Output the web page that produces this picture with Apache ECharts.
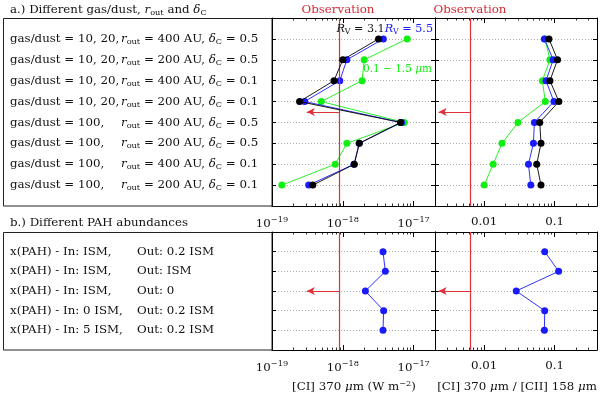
<!DOCTYPE html>
<html>
<head>
<meta charset="utf-8">
<script src="https://cdn.jsdelivr.net/npm/echarts@6/dist/echarts.min.js"></script>
<style>
html, body { margin: 0; padding: 0; background: #fff; }
#chart { width: 600px; height: 397px; }
</style>
</head>
<body>
<div id="chart"></div>
<script>
// panel a rows, top to bottom
var gasDust = ['10, 20', '10, 20', '10, 20', '10, 20', '100', '100', '100', '100'];
var rOut = [400, 200, 400, 200, 400, 200, 400, 200];
var deltaC = ['0.5', '0.5', '0.1', '0.1', '0.5', '0.5', '0.1', '0.1'];

// [CI] 370 um flux (W m^-2)
var ciRv31 = [3.19e-18, 1.0e-18, 7.5e-19, 2.45e-19, 6.5e-18, 1.71e-18, 1.45e-18, 3.77e-19];
var ciRv55 = [3.73e-18, 1.14e-18, 9.06e-19, 2.89e-19, 6.74e-18, 1.70e-18, 1.44e-18, 3.3e-19];
var ciSmall = [8.1e-18, 2.0e-18, 1.87e-18, 4.96e-19, 7.36e-18, 1.14e-18, 7.8e-19, 1.38e-19];
// [CI] 370 / [CII] 158
var ratioRv31 = [0.0832, 0.110, 0.0859, 0.115, 0.0615, 0.0641, 0.0557, 0.0641];
var ratioRv55 = [0.0715, 0.0955, 0.0754, 0.0977, 0.0516, 0.050, 0.0425, 0.0459];
var ratioSmall = [0.073, 0.0859, 0.0669, 0.0738, 0.0301, 0.0179, 0.0134, 0.0100];

// panel b rows
var pahIn = ['ISM', 'ISM', 'ISM', '0 ISM', '5 ISM'];
var pahOut = ['0.2 ISM', 'ISM', '0', '0.2 ISM', '0.2 ISM'];
var pahCI = [3.69e-18, 3.98e-18, 2.08e-18, 3.77e-18, 3.69e-18];
var pahRatio = [0.0723, 0.114, 0.0285, 0.0723, 0.0716];

// observation (upper limits)
var obsCI = 8.8e-19, obsCIArrow = 3.1e-19;
var obsRatio = 0.0063, obsRatioArrow = 0.00225;

var ciTicks = [1e-19, 1e-18, 1e-17];
var ratioTicks = [0.01, 0.1];

var FONT = 'DejaVu Serif';
var FS = 11.8, FSS = 8.2;
var RED = '#e0303a';
var BLUE = '#1a1aff', GREEN = '#11ee11';

var richTxt = {
  a: { fontFamily: FONT, fontSize: FS, color: '#111', width: 111 },
  b: { fontFamily: FONT, fontSize: FS, color: '#111', width: 127 },
  n: { fontFamily: FONT, fontSize: FS, color: '#111' },
  i: { fontFamily: FONT, fontSize: FS, fontStyle: 'italic', color: '#111' },
  s: { fontFamily: FONT, fontSize: FSS, padding: [6, 0, 0, 0], color: '#111' },
  e: { fontFamily: FONT, fontSize: FSS, padding: [0, 0, 7, 0], color: '#111' }
};

function rowLabelA(v) {
  var k = v - 1;
  if (k < 0 || k > 7) return '';
  return '{a|gas/dust = ' + gasDust[k] + ',}{i|r}{s|out}{n| = ' + rOut[k] + ' AU, }{i|δ}{s|C}{n| = ' + deltaC[k] + '}';
}
function rowLabelB(v) {
  var k = v - 1;
  if (k < 0 || k > 4) return '';
  return '{b|x(PAH) - In: ' + pahIn[k] + ',}{n|Out: ' + pahOut[k] + '}';
}
function expLabel(v) {
  return '{n|10}{e|−' + Math.round(-Math.log10(v)) + '}';
}

function minorsOf(min, max) {
  var out = [];
  for (var e = Math.floor(Math.log10(min)); e <= Math.ceil(Math.log10(max)); e++) {
    for (var m = 2; m <= 9; m++) {
      var v = m * Math.pow(10, e);
      if (v > min * 1.001 && v < max * 0.999) out.push([v, 0]);
    }
  }
  return out;
}

function pairs(vals) { return vals.map(function (v, i) { return [v, i + 1]; }); }

var grids = [
  { left: 272, top: 18, width: 163, height: 188 },
  { left: 435, top: 18, width: 162, height: 188 },
  { left: 272, top: 232, width: 163, height: 118 },
  { left: 435, top: 232, width: 162, height: 118 }
];
var ranges = [[1e-19, 2e-17], [0.002, 0.4], [1e-19, 2e-17], [0.002, 0.4]];
var rowsMax = [9, 9, 6, 6];
var xAxes = [], yAxes = [], series = [];

grids.forEach(function (g, gi) {
  var isCI = gi % 2 === 0;
  var ticks = isCI ? ciTicks : ratioTicks;
  var base = {
    type: 'log', logBase: 10, gridIndex: gi, min: ranges[gi][0], max: ranges[gi][1],
    splitLine: { show: false },
    axisLine: { show: true, onZero: false, lineStyle: { color: '#000', width: 1 } }
  };
  xAxes.push(Object.assign({}, base, {
    position: 'bottom',
    axisTick: { inside: true, length: 5, customValues: ticks, lineStyle: { color: '#000' } },
    axisLabel: {
      customValues: ticks, margin: 10, color: '#111', fontFamily: FONT, fontSize: FS,
      formatter: isCI ? expLabel : function (v) { return '{n|' + v + '}'; },
      rich: richTxt
    }
  }));
  xAxes.push(Object.assign({}, base, {
    position: 'top',
    axisTick: { inside: true, length: 5, customValues: ticks, lineStyle: { color: '#000' } },
    axisLabel: { show: false }
  }));
  var nRows = rowsMax[gi];
  yAxes.push({
    type: 'value', gridIndex: gi, position: 'left', min: 0, max: nRows, interval: 1, inverse: true,
    axisLine: { show: true, lineStyle: { color: '#000', width: 1 } },
    axisTick: { inside: true, length: 4, lineStyle: { color: '#000' } },
    splitLine: { show: true, lineStyle: { color: '#999', type: [1, 2], width: 0.8 } },
    axisLabel: gi % 2 === 0 ? {
      align: 'left', margin: 262, formatter: gi === 0 ? rowLabelA : rowLabelB, rich: richTxt
    } : { show: false }
  });
  yAxes.push({
    type: 'value', gridIndex: gi, position: 'right', min: 0, max: nRows, interval: 1, inverse: true,
    axisLine: { show: true, lineStyle: { color: '#000', width: 1 } },
    axisTick: { inside: true, length: 4, lineStyle: { color: '#000' } },
    splitLine: { show: false }, axisLabel: { show: false }
  });
  // minor ticks on the log axes
  series.push({
    type: 'custom', xAxisIndex: gi * 2, yAxisIndex: gi * 2, silent: true, clip: false,
    data: minorsOf(ranges[gi][0], ranges[gi][1]),
    renderItem: function (params, api) {
      var cs = params.coordSys;
      var x = Math.round(api.coord([api.value(0), 1])[0]) + 0.5;
      var b = cs.y + cs.height;
      return { type: 'group', children: [
        { type: 'line', shape: { x1: x, y1: b, x2: x, y2: b - 2.5 }, style: { stroke: '#000', lineWidth: 0.8 } },
        { type: 'line', shape: { x1: x, y1: cs.y, x2: x, y2: cs.y + 2.5 }, style: { stroke: '#000', lineWidth: 0.8 } }
      ] };
    }
  });
});

function lineSeries(gi, vals, color, z) {
  return {
    type: 'line', xAxisIndex: gi * 2, yAxisIndex: gi * 2, data: pairs(vals),
    symbol: 'circle', symbolSize: 7, z: z,
    lineStyle: { color: color, width: 0.9 }, itemStyle: { color: color }
  };
}
function obsMark(obs, arrowEnd, row, nRows) {
  return {
    silent: true, symbol: ['none', 'none'], label: { show: false },
    lineStyle: { color: RED, width: 1.2, type: 'solid' },
    data: [
      [{ coord: [obs, 0], symbol: 'none' }, { coord: [obs, nRows], symbol: 'none' }],
      [{ coord: [obs, row], symbol: 'none' }, { coord: [arrowEnd, row], symbol: 'arrow', symbolSize: [6, 8] }]
    ]
  };
}

var s;
series.push(lineSeries(0, ciSmall, GREEN, 3));
series.push(lineSeries(0, ciRv55, BLUE, 4));
s = lineSeries(0, ciRv31, '#000', 5); s.markLine = obsMark(obsCI, obsCIArrow, 4.5, 9); series.push(s);
series.push(lineSeries(1, ratioSmall, GREEN, 3));
series.push(lineSeries(1, ratioRv55, BLUE, 4));
s = lineSeries(1, ratioRv31, '#000', 5); s.markLine = obsMark(obsRatio, obsRatioArrow, 4.5, 9); series.push(s);
s = lineSeries(2, pahCI, BLUE, 4); s.markLine = obsMark(obsCI, obsCIArrow, 3, 6); series.push(s);
s = lineSeries(3, pahRatio, BLUE, 4); s.markLine = obsMark(obsRatio, obsRatioArrow, 3, 6); series.push(s);

function gText(x, y, text, color, align, size) {
  var k = (size || FS) / FS;
  var rich = {};
  Object.keys(richTxt).forEach(function (key) {
    var r = richTxt[key];
    rich[key] = { fontFamily: r.fontFamily, fontSize: r.fontSize * k, fontStyle: r.fontStyle, padding: r.padding, fill: color };
  });
  // blue variants for the second R_V label
  rich.bi = { fontFamily: FONT, fontSize: FS * k, fontStyle: 'italic', fill: BLUE };
  rich.bs = { fontFamily: FONT, fontSize: FSS * k, padding: [6, 0, 0, 0], fill: BLUE };
  rich.bn = { fontFamily: FONT, fontSize: FS * k, fill: BLUE };
  return {
    type: 'text', x: x, y: y, z: 10,
    style: { text: text, rich: rich, fill: color, fontFamily: FONT, fontSize: FS * k, align: align || 'left', verticalAlign: 'middle' }
  };
}

var graphics = [
  { type: 'rect', shape: { x: 3.5, y: 18.5, width: 268.5, height: 187.5 }, style: { fill: 'none', stroke: '#222', lineWidth: 1 } },
  { type: 'rect', shape: { x: 3.5, y: 232.5, width: 268.5, height: 117.5 }, style: { fill: 'none', stroke: '#222', lineWidth: 1 } },
  gText(10, 10, '{n|a.) Different gas/dust, }{i|r}{s|out}{n| and }{i|δ}{s|C}', '#111'),
  gText(10, 223, '{n|b.) Different PAH abundances}', '#111'),
  gText(338, 10, '{n|Observation}', '#d42a36', 'center'),
  gText(470, 10, '{n|Observation}', '#d42a36', 'center'),
  gText(433, 29, '{i|R}{s|V}{n| = 3.1}{bi|R}{bs|V}{bn| = 5.5}', '#111', 'right', 11.2),
  gText(432, 69.5, '{n|0.1 − 1.5 }{i|μ}{n|m}', GREEN, 'right', 10.5),
  gText(354, 387, '{n|[CI] 370 }{i|μ}{n|m (W m}{e|−2}{n|)}', '#111', 'center'),
  gText(517, 387, '{n|[CI] 370 }{i|μ}{n|m / [CII] 158 }{i|μ}{n|m}', '#111', 'center')
];

var chart = echarts.init(document.getElementById('chart'));
chart.setOption({
  animation: false,
  backgroundColor: '#fff',
  grid: grids,
  xAxis: xAxes,
  yAxis: yAxes,
  series: series,
  graphic: graphics
});
</script>
</body>
</html>
